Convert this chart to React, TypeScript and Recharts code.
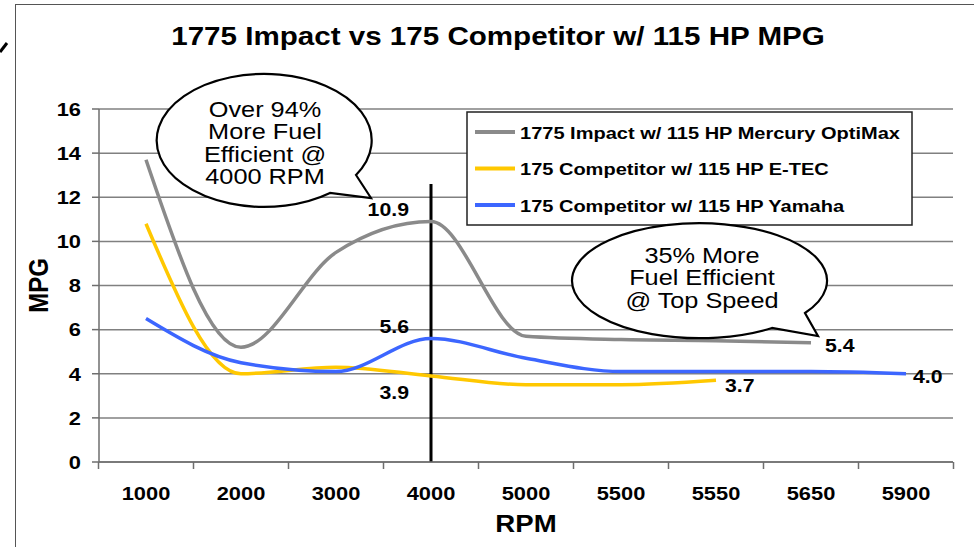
import React from 'react';
import {
  LineChart,
  Line,
  XAxis,
  YAxis,
  CartesianGrid,
  Legend,
  LabelList,
  ReferenceLine,
} from 'recharts';

const rpmLabels = ['1000', '2000', '3000', '4000', '5000', '5500', '5550', '5650', '5900'];
const impactMpg = [13.7, 5.2, 9.5, 10.9, 5.7, 5.55, 5.5, 5.4];
const etecMpg = [10.8, 4.0, 4.3, 3.9, 3.5, 3.5, 3.7];
const yamahaMpg = [6.5, 4.5, 4.1, 5.6, 4.7, 4.1, 4.1, 4.1, 4.0];
const mpgTicks = [0, 2, 4, 6, 8, 10, 12, 14, 16];

const seriesKeys = ['impact', 'etec', 'yamaha'];
const seriesNames: Record<string, string> = {
  impact: '1775 Impact w/ 115 HP Mercury OptiMax',
  etec: '175 Competitor w/ 115 HP E-TEC',
  yamaha: '175 Competitor w/ 115 HP Yamaha',
};

const rows = rpmLabels.map((rpm, i) => ({
  rpm,
  impact: impactMpg[i],
  etec: etecMpg[i],
  yamaha: yamahaMpg[i],
}));

const FONT = '"Liberation Sans", Arial, sans-serif';
const SX = 1.15; // the source picture is a bit stretched sideways
const HALF_BAND = 47.5;
const PLOT_BOTTOM = 462;
const AXIS_GREY = '#6e6e6e';

const XTick = ({ x, payload, index }: any) => (
  <g>
    <line x1={x - HALF_BAND} x2={x - HALF_BAND} y1={PLOT_BOTTOM} y2={PLOT_BOTTOM + 7} stroke={AXIS_GREY} strokeWidth={1.5} />
    {index === rpmLabels.length - 1 && (
      <line x1={x + HALF_BAND} x2={x + HALF_BAND} y1={PLOT_BOTTOM} y2={PLOT_BOTTOM + 7} stroke={AXIS_GREY} strokeWidth={1.5} />
    )}
    <text
      transform={`translate(${x},${PLOT_BOTTOM + 38}) scale(${SX},1)`}
      textAnchor="middle"
      fontFamily={FONT}
      fontWeight="bold"
      fontSize={19}
      fill="#000"
    >
      {payload.value}
    </text>
  </g>
);

const YTick = ({ x, y, payload }: any) => (
  <text
    transform={`translate(${x},${y}) scale(${SX},1)`}
    dy="0.36em"
    textAnchor="end"
    fontFamily={FONT}
    fontWeight="bold"
    fontSize={19}
    fill="#000"
  >
    {payload.value}
  </text>
);

// which points carry a value label, and where the text sits relative to the point
const labelSpots: Record<string, Record<number, { dx: number; dy: number; anchor: string }>> = {
  impact: { 3: { dx: -22, dy: -6, anchor: 'end' }, 7: { dx: 14, dy: 9, anchor: 'start' } },
  etec: { 3: { dx: -22, dy: 23, anchor: 'end' }, 6: { dx: 9, dy: 12, anchor: 'start' } },
  yamaha: { 3: { dx: -22, dy: -5, anchor: 'end' }, 8: { dx: 7, dy: 9, anchor: 'start' } },
};

const makeLabel = (key: string) => (props: any) => {
  const spot = labelSpots[key][props.index];
  if (!spot || props.value == null) return null;
  return (
    <text
      transform={`translate(${props.x + spot.dx},${props.y + spot.dy}) scale(${SX},1)`}
      textAnchor={spot.anchor}
      fontFamily={FONT}
      fontWeight="bold"
      fontSize={18.5}
      fill="#000"
    >
      {Number(props.value).toFixed(1)}
    </text>
  );
};

const renderLegend = ({ payload }: any) => {
  const items = [...(payload || [])].sort(
    (a: any, b: any) => seriesKeys.indexOf(a.dataKey) - seriesKeys.indexOf(b.dataKey)
  );
  return (
    <svg width={447} height={115} style={{ display: 'block' }}>
      <rect x={1} y={1} width={445} height={113} fill="#fff" stroke="#222" strokeWidth={1.5} />
      {items.map((entry: any, i: number) => {
        const cy = 21 + i * 36.5;
        return (
          <g key={entry.value}>
            <line x1={9} x2={49} y1={cy} y2={cy} stroke={entry.color} strokeWidth={4} />
            <text
              transform={`translate(54,${cy + 6.5}) scale(${SX},1)`}
              fontFamily={FONT}
              fontWeight="bold"
              fontSize={17.4}
              fill="#000"
            >
              {entry.value}
            </text>
          </g>
        );
      })}
    </svg>
  );
};

const Bubble = ({ path, cx, lines, top }: { path: string; cx: number; lines: string[]; top: number }) => (
  <g>
    <path d={path} fill="#fff" stroke="#000" strokeWidth={2.2} strokeLinejoin="miter" />
    {lines.map((t, i) => (
      <text
        key={t}
        transform={`translate(${cx},${top + i * 22.3}) scale(${SX},1)`}
        textAnchor="middle"
        fontFamily={FONT}
        fontSize={22}
        fill="#000"
      >
        {t}
      </text>
    ))}
  </g>
);

export default function App() {
  return (
    <div
      style={{
        position: 'absolute',
        left: 0,
        top: 0,
        width: 974,
        height: 547,
        background: '#fff',
        overflow: 'hidden',
        fontFamily: FONT,
      }}
    >
      <div
        style={{
          position: 'absolute',
          left: 15,
          top: 4,
          width: 980,
          height: 560,
          borderLeft: '1.5px solid #555',
          borderTop: '1.5px solid #555',
        }}
      />
      <LineChart
        width={974}
        height={547}
        data={rows}
        margin={{ top: 109, right: 21, bottom: 55, left: 0 }}
      >
        <CartesianGrid horizontal vertical={false} stroke="#808080" strokeWidth={1.5} />
        <XAxis
          dataKey="rpm"
          padding={{ left: 47, right: 47 }}
          height={30}
          tickLine={false}
          interval={0}
          axisLine={{ stroke: AXIS_GREY, strokeWidth: 1.5 }}
          tick={<XTick />}
          label={{
            content: ({ viewBox }: any) => (
              <text
                transform={`translate(${viewBox.x + viewBox.width / 2},532) scale(${SX},1)`}
                textAnchor="middle"
                fontFamily={FONT}
                fontWeight="bold"
                fontSize={24}
                fill="#000"
              >
                RPM
              </text>
            ),
          }}
        />
        <YAxis
          width={99}
          domain={[0, 16]}
          ticks={mpgTicks}
          interval={0}
          tickSize={7}
          tickMargin={11}
          tickLine={{ stroke: AXIS_GREY, strokeWidth: 1.5 }}
          axisLine={{ stroke: AXIS_GREY, strokeWidth: 1.5 }}
          tick={<YTick />}
          label={{
            content: ({ viewBox }: any) => (
              <text
                transform={`translate(38,${viewBox.y + viewBox.height / 2}) scale(${SX},1) rotate(-90)`}
                dy="0.36em"
                textAnchor="middle"
                fontFamily={FONT}
                fontWeight="bold"
                fontSize={24}
                fill="#000"
              >
                MPG
              </text>
            ),
          }}
        />
        <ReferenceLine
          segment={[
            { x: '4000', y: 0 },
            { x: '4000', y: 12.6 },
          ]}
          stroke="#000"
          strokeWidth={3}
        />
        <Legend
          content={renderLegend}
          layout="horizontal"
          verticalAlign="middle"
          align="center"
          wrapperStyle={{ left: 466, top: 111, width: 447, height: 115 }}
        />
        <Line
          type="monotone"
          dataKey="impact"
          name={seriesNames.impact}
          stroke="#8a8a8a"
          strokeWidth={3.5}
          dot={false}
          isAnimationActive={false}
        >
          <LabelList dataKey="impact" content={makeLabel('impact')} />
        </Line>
        <Line
          type="monotone"
          dataKey="etec"
          name={seriesNames.etec}
          stroke="#ffc800"
          strokeWidth={3.5}
          dot={false}
          isAnimationActive={false}
        >
          <LabelList dataKey="etec" content={makeLabel('etec')} />
        </Line>
        <Line
          type="monotone"
          dataKey="yamaha"
          name={seriesNames.yamaha}
          stroke="#3c66ff"
          strokeWidth={3.5}
          dot={false}
          isAnimationActive={false}
        >
          <LabelList dataKey="yamaha" content={makeLabel('yamaha')} />
        </Line>
      </LineChart>
      <svg
        width={974}
        height={547}
        style={{ position: 'absolute', left: 0, top: 0, pointerEvents: 'none' }}
      >
        <path d="M0 52 L7 43" stroke="#000" strokeWidth={3} />
        <text
          transform={`translate(498,45) scale(1.16,1)`}
          textAnchor="middle"
          fontFamily={FONT}
          fontWeight="bold"
          fontSize={25.5}
          fill="#000"
        >
          1775 Impact vs 175 Competitor w/ 115 HP MPG
        </text>
        <Bubble
          path="M 330 193 A 107.5 66.5 0 1 1 356 175 L 371 198 Z"
          cx={265}
          top={117}
          lines={['Over 94%', 'More Fuel', 'Efficient @', '4000 RPM']}
        />
        <Bubble
          path="M 772 328 A 127.5 57.5 0 1 1 805 313 L 818 336 Z"
          cx={702}
          top={263}
          lines={['35% More', 'Fuel Efficient', '@ Top Speed']}
        />
      </svg>
    </div>
  );
}
